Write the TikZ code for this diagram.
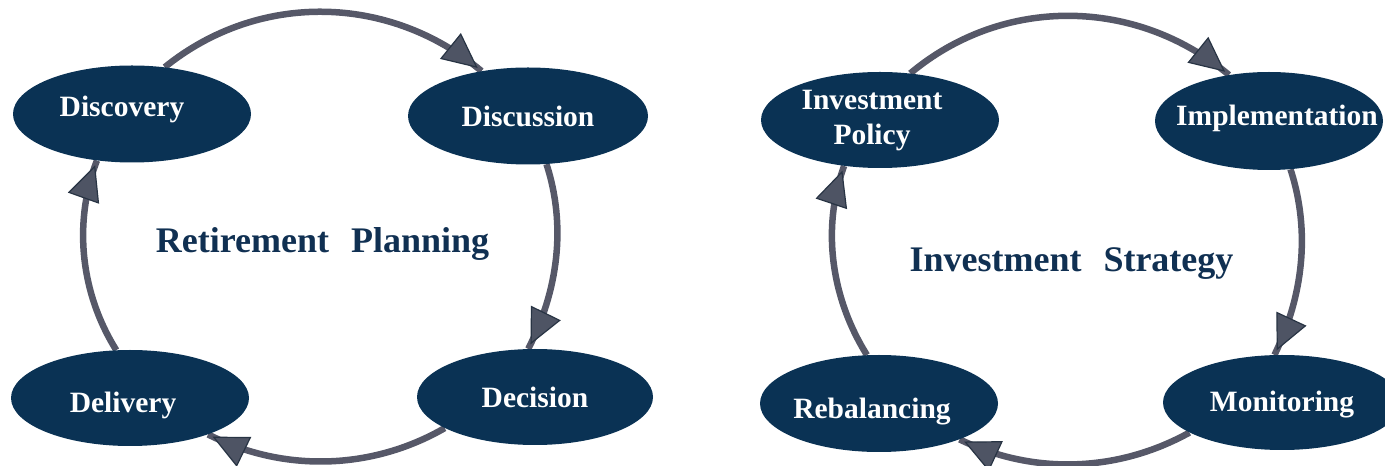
\documentclass[tikz,border=0pt]{standalone}
\usepackage{fontspec}
\setmainfont{Liberation Serif}
\usetikzlibrary{shapes.geometric, arrows.meta, decorations.markings}

\definecolor{navy}{RGB}{10,50,84}
\definecolor{titleblue}{RGB}{16,48,82}
\definecolor{ringgray}{RGB}{86,88,104}
\definecolor{headfill}{RGB}{78,84,100}
\definecolor{headedge}{RGB}{40,52,68}

\pgfdeclarelayer{ring}
\pgfsetlayers{ring,main}

\begin{document}
\begin{tikzpicture}[x=1pt, y=1pt,
  stage/.style={ellipse, fill=navy, inner sep=0pt,
    minimum width=238pt, minimum height=97pt},
  stagefont/.style={text=white, inner sep=0pt, align=center,
    font=\bfseries\fontsize{29.5}{35}\selectfont},
  stagetext/.style={stagefont, text height=20.5pt, text depth=6.5pt},
  heading/.style={text=titleblue, inner sep=0pt, anchor=base,
    font=\bfseries\fontsize{36}{40}\selectfont},
  flow/.style={draw=ringgray, line width=6.5pt, postaction={decorate},
    decoration={markings, mark=at position -5pt with
      {\arrow{Triangle[length=35pt, width=33pt, fill=headfill,
        color=headedge, line width=1.2pt]}}}},
]
\useasboundingbox (0,0) rectangle (1385,466);

% ---------- Retirement Planning cycle ----------
\node[stage, label={[stagetext, xshift=-10pt, yshift=4pt]center:Discovery}]
  (dsc) at (132,352) {};
\node[stage, minimum width=240pt, label={[stagetext, yshift=-4pt]center:Discussion}]
  (dss) at (528,350) {};
\node[stage, minimum width=236pt, minimum height=96pt,
  label={[stagetext, yshift=-4pt]center:Decision}]
  (dec) at (535,69) {};
\node[stage, minimum height=96pt, label={[stagetext, xshift=-7pt, yshift=-8pt]center:Delivery}]
  (del) at (130,68) {};
\node[heading] (rp) at (322.5,213) {Retirement\hspace{22pt}Planning};

\begin{pgfonlayer}{ring}
  \draw[flow] (dsc.55)  to[out=39,  in=140,  looseness=0.97] (dss.136);
  \draw[flow] (dss.291) to[out=-72, in=63,   looseness=0.9]  (dec.98);
  \draw[flow] (dec.199) to[out=210, in=-27,  looseness=0.91] (del.335);
  \draw[flow] (del.106) to[out=122, in=-111, looseness=0.9]  (dsc.233);
\end{pgfonlayer}

% ---------- Investment Strategy cycle ----------
\node[stage, minimum height=96pt,
  label={[stagefont, xshift=-8pt, yshift=-1pt]center:{Investment\\Policy}}]
  (ip) at (880,346) {};
\node[stage, minimum width=228pt, minimum height=98pt,
  label={[stagetext, xshift=8pt, yshift=2pt]center:Implementation}]
  (imp) at (1269,345) {};
\node[stage, minimum height=95pt, label={[stagetext, yshift=-2.5pt]center:Monitoring}]
  (mon) at (1282,63.5) {};
\node[stage, label={[stagetext, xshift=-7pt, yshift=-8pt]center:Rebalancing}]
  (reb) at (879,62.5) {};
\node[heading] (is) at (1071.5,194) {Investment\hspace{22pt}Strategy};

\begin{pgfonlayer}{ring}
  \draw[flow] (ip.57)   to[out=40,  in=140,  looseness=0.97] (imp.131);
  \draw[flow] (imp.294) to[out=-72, in=64,   looseness=0.9]  (mon.99);
  \draw[flow] (mon.198) to[out=209, in=-26,  looseness=0.91] (reb.336);
  \draw[flow] (reb.104) to[out=122, in=-110, looseness=0.9]  (ip.232);
\end{pgfonlayer}
\end{tikzpicture}
\end{document}
